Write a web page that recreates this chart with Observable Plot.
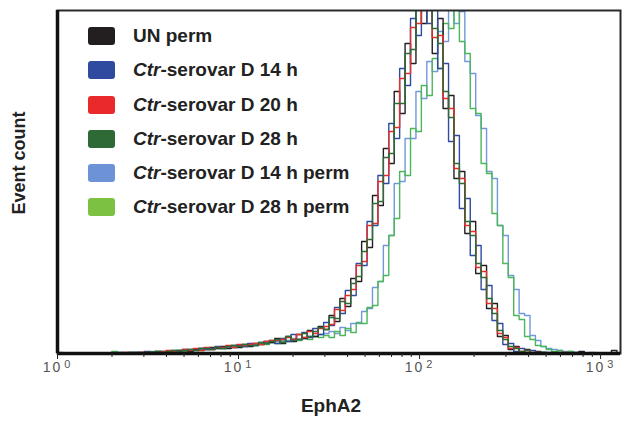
<!DOCTYPE html>
<html><head><meta charset="utf-8">
<script src="https://cdn.jsdelivr.net/npm/d3@7"></script>
<script src="https://cdn.jsdelivr.net/npm/@observablehq/plot@0.6"></script>
<style>
body{margin:0;background:#fff;}
#wrap{position:relative;width:623px;height:421px;font-family:"Liberation Sans",Arial,sans-serif;}
#legend{position:absolute;left:88px;top:27px;}
.row{display:flex;align-items:center;height:18px;margin-bottom:16.3px;}
.sw{width:27px;height:18px;border-radius:3px;margin-right:18px;}
.lab{font-weight:bold;font-size:19px;color:#222;white-space:nowrap;line-height:18px;}
</style></head><body><div id="wrap"></div>
<script>
const series = ["UN perm","Ctr-serovar D 14 h","Ctr-serovar D 20 h","Ctr-serovar D 28 h","Ctr-serovar D 14 h perm","Ctr-serovar D 28 h perm"];
const swatchColors = ["#231f20","#2f4b9f","#ea2a2a","#2d6a36","#6e92d6","#7cc142"];
const lineColors = ["#231f20","#2f4b9f","#e52d2a","#2d6a36","#7197dc","#4cb65a"];
const majorTicks = [1,10,100,1000];
const minorTicks = [2,3,4,5,6,7,8,9,20,30,40,50,60,70,80,90,200,300,400,500,600,700,800,900];

// event counts per channel (channels evenly spaced in log10, 0.03 decade wide)
const unPerm = [
0,0,0,0,0,0,0,0,0,0,
0,0,0,1,0,1,0,1,2,1,
2,1,3,4,2,4,5,4,6,5,
7,5,8,6,9,7,10,9,12,11,
15,10,17,12,19,15,23,17,27,24,
38,32,55,47,75,72,112,106,158,148,
205,190,262,240,310,290,365,330,372,300,
335,245,258,175,182,120,132,80,88,45,
50,17,18,4,7,1,4,0,2,1,
0,0,1,0,0,0,2,0,0,0,0,0,3,0];
const d14 = [
0,0,0,0,0,0,0,0,0,0,
0,1,0,0,1,0,2,1,1,2,
1,3,2,3,4,3,5,4,5,7,
5,7,6,8,7,10,8,11,10,13,
10,15,12,19,14,21,16,25,19,31,
28,46,40,63,58,90,88,132,128,178,
170,230,215,285,268,335,318,372,330,352,
285,290,212,218,145,155,98,108,64,68,
33,30,9,10,2,5,1,3,0,1,
1,0,0,0,0,1,0,0,0,0,0,0,0,0];
const d20 = [
0,0,0,0,0,0,0,0,0,0,
0,0,1,0,0,1,1,0,1,2,
3,2,2,4,3,5,3,6,4,6,
6,8,6,9,8,9,10,9,12,13,
13,14,16,14,19,16,22,20,25,27,
29,44,43,58,64,88,92,128,130,172,
178,222,226,275,280,326,330,356,352,316,
318,255,245,185,175,128,122,86,82,50,
45,20,16,5,6,2,3,1,1,0,
0,0,0,1,0,0,0,0,0,0,0,0,0,0];
const d28 = [
0,0,0,0,0,0,0,0,0,0,
0,0,0,1,1,0,1,1,2,1,
2,3,2,3,4,3,5,5,4,6,
5,7,8,7,9,8,8,11,10,12,
14,11,17,13,14,20,17,22,26,24,
36,35,52,50,70,77,102,114,150,152,
196,200,250,250,300,304,350,345,346,325,
310,262,236,190,170,132,118,90,76,55,
40,23,14,7,5,2,3,1,1,1,
0,1,0,0,0,0,0,0,0,0,0,0,0,0];
const d14perm = [
0,0,0,0,0,0,0,0,0,0,
0,0,1,0,1,0,1,1,2,1,
2,2,3,3,2,4,4,5,5,5,
6,6,7,8,7,9,9,10,11,11,
12,13,13,15,14,16,17,17,19,20,
22,20,26,23,30,30,42,45,66,72,
108,118,170,172,215,215,262,255,292,282,
322,312,352,330,342,292,280,238,225,182,
175,128,118,78,64,40,38,18,13,7,
5,4,3,2,2,1,1,0,1,0,0,0,0,0];
const d28perm = [
1,0,0,0,0,0,0,0,0,0,
2,1,0,0,0,1,1,2,1,1,
2,1,3,2,3,4,3,5,4,6,
5,7,6,8,7,9,8,10,9,11,
10,12,12,14,13,15,14,17,16,18,
16,22,18,25,21,31,30,46,48,72,
78,118,135,182,178,225,222,268,258,295,
285,330,325,360,312,300,245,240,190,180,
140,128,90,76,38,34,17,14,8,7,
4,2,3,1,2,0,1,0,0,0,0,0,0,0];

const counts = [unPerm, d14, d20, d28, d14perm, d28perm];
const channelLog = d3.range(unPerm.length).map(i => i * 0.03);
const drawOrder = [4, 5, 0, 1, 2, 3];

const lineMarks = drawOrder.map(s => Plot.line(
  counts[s].map((c, i) => ({x: Math.pow(10, channelLog[i]), count: c})),
  {x: "x", y: "count", stroke: lineColors[s], strokeWidth: 1.4, curve: "step-after", clip: true}
));

const chart = Plot.plot({
  width: 623, height: 421,
  marginLeft: 57, marginRight: 3, marginTop: 10, marginBottom: 68,
  style: {fontFamily: "'Liberation Sans', Arial, sans-serif", background: "#fff"},
  x: {type: "log", domain: [1, 1288], axis: null},
  y: {domain: [0, 343], axis: null},
  marks: [
    ...lineMarks,
    Plot.frame({stroke: "#2a2a2a", strokeWidth: 2}),
    Plot.ruleX([1], {stroke: "#111", strokeWidth: 3.5}),
    Plot.ruleY([0], {stroke: "#111", strokeWidth: 3.5}),
    Plot.axisX(majorTicks, {tickSize: 6, tickPadding: 3, fontSize: 14, stroke: "#222", tickFormat: d => "10^" + Math.round(Math.log10(d)), label: null}),
    Plot.axisX(minorTicks, {tickSize: 4, stroke: "#222", tickFormat: () => "", label: null}),
    Plot.text(["Event count"], {frameAnchor: "left", rotate: -90, dx: -38, dy: -19, fontSize: 18, fontWeight: "bold", fill: "#222", textAnchor: "middle", lineAnchor: "middle"}),
    Plot.text(["EphA2"], {frameAnchor: "bottom", dx: -8, dy: 58, fontSize: 19, fontWeight: "bold", fill: "#222", textAnchor: "middle", lineAnchor: "bottom"})
  ]
});

d3.select(chart).selectAll("text").each(function() {
  const t = this.textContent;
  const m = /^10\^(\d)$/.exec(t);
  if (m) {
    const sel = d3.select(this);
    sel.text("10").attr("fill", "#555").style("letter-spacing", "2px");
    sel.append("tspan").attr("dx", "2").attr("dy", "-0.45em").attr("font-size", "11").text(m[1]);
  }
});

const wrap = document.getElementById("wrap");
wrap.appendChild(chart);
const legend = document.createElement("div");
legend.id = "legend";
series.forEach((name, i) => {
  const row = document.createElement("div");
  row.className = "row";
  const sw = document.createElement("div");
  sw.className = "sw";
  sw.style.background = swatchColors[i];
  const lab = document.createElement("span");
  lab.className = "lab";
  if (name.startsWith("Ctr")) {
    const it = document.createElement("i");
    it.textContent = "Ctr";
    lab.appendChild(it);
    lab.appendChild(document.createTextNode(name.slice(3)));
  } else {
    lab.textContent = name;
  }
  row.appendChild(sw);
  row.appendChild(lab);
  legend.appendChild(row);
});
wrap.appendChild(legend);
</script></body></html>
